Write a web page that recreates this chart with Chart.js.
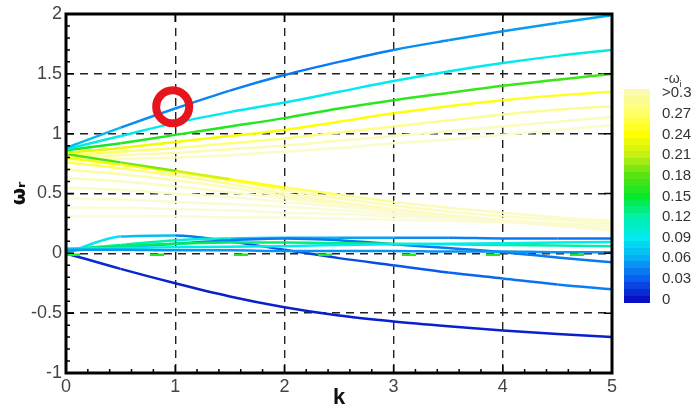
<!DOCTYPE html>
<html>
<head>
<meta charset="utf-8">
<script src="https://cdn.jsdelivr.net/npm/chart.js@4"></script>
<style>
body{margin:0;background:#fff;}
#wrap{position:relative;width:698px;height:407px;}
#cb{position:absolute;left:624px;top:89px;width:26px;height:213px;}
#cb div{position:absolute;left:0;width:26px;}
.cbl{position:absolute;left:662px;font:15px "Liberation Sans",Arial,sans-serif;color:#333;line-height:16px;}
#cbt{position:absolute;left:664px;top:70px;font:14px "Liberation Sans",Arial,sans-serif;color:#333;}
#cbt sub{font-size:9px;}
</style>
</head>
<body>
<div id="wrap">
<canvas id="c" width="698" height="407"></canvas>
<div id="cb"></div>
<div id="cbt">-ω<sub>i</sub></div>
</div>
<script>
// wavenumber samples
const k = [0,0.5,1,1.5,2,2.5,3,3.5,4,4.5,5]

// rising branch (omega_r) and growth (-omega_i)
const wrA = [0.88,1.05,1.21,1.36,1.49,1.60,1.70,1.78,1.855,1.925,1.99]
const wiA = [0.08,0.05,0.045,0.045,0.04,0.04,0.045,0.05,0.05,0.055,0.06]
const wrB = [0.87,0.98,1.09,1.18,1.26,1.35,1.44,1.52,1.59,1.65,1.70]
const wiB = [0.10,0.09,0.09,0.09,0.09,0.09,0.09,0.09,0.09,0.095,0.10]
const wrC = [0.86,0.92,0.99,1.06,1.13,1.21,1.28,1.34,1.40,1.45,1.50]
const wiC = [0.15,0.16,0.16,0.16,0.16,0.16,0.165,0.165,0.17,0.17,0.17]
const wrD = [0.84,0.88,0.93,0.98,1.03,1.10,1.17,1.23,1.28,1.32,1.35]
const wiD = [0.22,0.23,0.235,0.235,0.24,0.24,0.24,0.245,0.245,0.25,0.25]
const wrE = [0.82,0.85,0.88,0.92,0.96,1.01,1.06,1.11,1.16,1.20,1.23]
const wiE = [0.26,0.27,0.28,0.28,0.28,0.285,0.285,0.29,0.29,0.29,0.29]
const wrF = [0.80,0.82,0.84,0.87,0.90,0.94,0.98,1.02,1.06,1.10,1.14]
const wiF = [0.29,0.30,0.31,0.31,0.31,0.32,0.32,0.32,0.32,0.32,0.32]
const wrG = [0.78,0.79,0.80,0.82,0.85,0.88,0.92,0.95,0.99,1.03,1.07]
const wiG = [0.31,0.32,0.33,0.33,0.34,0.34,0.34,0.34,0.34,0.34,0.34]

// falling branch
const wrH = [0.83,0.76,0.69,0.62,0.55,0.49,0.43,0.38,0.34,0.30,0.27]
const wiH = [0.17,0.18,0.20,0.23,0.26,0.28,0.30,0.32,0.33,0.34,0.34]
const wrP = [0.80,0.74,0.68,0.61,0.53,0.46,0.40,0.35,0.31,0.28,0.25]
const wiP = [0.23,0.24,0.25,0.27,0.29,0.31,0.32,0.33,0.34,0.34,0.34]
const wrQ = [0.76,0.71,0.65,0.58,0.50,0.43,0.37,0.32,0.28,0.25,0.22]
const wiQ = [0.26,0.27,0.28,0.30,0.31,0.32,0.33,0.34,0.34,0.35,0.35]
const wrR = [0.70,0.66,0.61,0.55,0.48,0.42,0.36,0.31,0.27,0.23,0.20]
const wiR = [0.29,0.30,0.31,0.32,0.33,0.34,0.34,0.35,0.35,0.35,0.35]
const wrS = [0.63,0.60,0.56,0.51,0.46,0.41,0.36,0.31,0.27,0.23,0.19]
const wiS = [0.31,0.32,0.33,0.34,0.34,0.35,0.35,0.35,0.36,0.36,0.36]
const wrT = [0.55,0.53,0.50,0.47,0.43,0.39,0.35,0.31,0.27,0.24,0.21]
const wiT = [0.33,0.34,0.34,0.35,0.35,0.35,0.36,0.36,0.36,0.36,0.36]
const wrU = [0.46,0.45,0.43,0.41,0.39,0.36,0.33,0.30,0.27,0.24,0.22]
const wiU = [0.34,0.35,0.35,0.35,0.36,0.36,0.36,0.36,0.36,0.36,0.36]
const wrV = [0.38,0.38,0.37,0.36,0.34,0.33,0.31,0.29,0.27,0.25,0.23]
const wiV = [0.35,0.36,0.36,0.36,0.36,0.36,0.36,0.36,0.36,0.36,0.36]
const wrW = [0.31,0.31,0.31,0.30,0.30,0.29,0.28,0.27,0.26,0.25,0.24]
const wiW = [0.36,0.36,0.36,0.36,0.36,0.36,0.36,0.36,0.36,0.36,0.36]

// branches near zero
const wrDk = [0,-0.13,-0.25,-0.36,-0.45,-0.52,-0.57,-0.61,-0.645,-0.675,-0.70]
const wiDk = [0.01,0.008,0.006,0.006,0.006,0.006,0.006,0.006,0.006,0.006,0.006]
const wrI = [0,0.14,0.15,0.10,0.03,-0.04,-0.10,-0.16,-0.21,-0.26,-0.30]
const wiI = [0.09,0.085,0.05,0.03,0.02,0.02,0.025,0.03,0.035,0.04,0.045]
const wrJ = [0.03,0.07,0.11,0.125,0.13,0.13,0.13,0.13,0.125,0.125,0.125]
const wiJ = [0.13,0.12,0.11,0.09,0.07,0.06,0.05,0.045,0.04,0.04,0.035]
const wrK = [0.02,0.05,0.08,0.11,0.125,0.11,0.075,0.045,0.01,-0.035,-0.075]
const wiK = [0.06,0.05,0.045,0.04,0.04,0.04,0.04,0.04,0.04,0.04,0.04]
const wrL = [0.04,0.045,0.05,0.055,0.06,0.07,0.075,0.08,0.085,0.09,0.095]
const wiL = [0.09,0.09,0.09,0.09,0.09,0.09,0.09,0.09,0.09,0.09,0.09]
const wrN = [0.03,0.06,0.08,0.09,0.09,0.085,0.08,0.075,0.07,0.065,0.06]
const wiN = [0.14,0.14,0.14,0.135,0.13,0.13,0.13,0.12,0.12,0.12,0.12]
const wrM = [0.03,0.03,0.025,0.025,0.02,0.02,0.02,0.015,0.015,0.01,0.01]
const wiM = [0.05,0.05,0.05,0.05,0.05,0.05,0.05,0.05,0.05,0.05,0.05]
const wrZ = [-0.012,-0.012,-0.012,-0.012,-0.012,-0.012,-0.012,-0.012,-0.012,-0.012,-0.012]
const wiZ = [0.16,0.16,0.16,0.16,0.16,0.16,0.16,0.16,0.16,0.16,0.16]

// highlighted mode (red ring)
const markK = [0.977]
const markW = [1.224]

// colour scale
const cbTicks = ['>0.3','0.27','0.24','0.21','0.18','0.15','0.12','0.09','0.06','0.03','0']
const cmapVals = [0,0.03,0.06,0.09,0.12,0.15,0.18,0.21,0.24,0.27,0.30,0.36]
const cmapCols = ['#0812c4','#0a5ef0','#08aef4','#00eaf0','#00f0a6','#08e82a','#58e410','#c8f014','#ffff00','#ffff66','#fbfbb0','#fbfbd8']

function hex(c){return [1,3,5].map(i=>parseInt(c.substr(i,2),16))}

function cmap(v){
if(v<=cmapVals[0]) return cmapCols[0]
if(v>=cmapVals[cmapVals.length-1]) return cmapCols[cmapCols.length-1]
let i=0
while(v>cmapVals[i+1]) i++
const t=(v-cmapVals[i])/(cmapVals[i+1]-cmapVals[i])
const a=hex(cmapCols[i]),b=hex(cmapCols[i+1])
return 'rgb('+a.map((x,j)=>Math.round(x+(b[j]-x)*t)).join(',')+')'
}

// colourbar bands (one per 0.01)
const cb=document.getElementById('cb')
const nb=31, bh=213/nb
for(let j=0;j<nb;j++){
const d=document.createElement('div')
d.style.top=(213-(j+1)*bh)+'px'
d.style.height=(bh+0.6)+'px'
d.style.background=cmap(j*0.01)
cb.appendChild(d)
}
cbTicks.forEach((t,i)=>{
const s=document.createElement('div')
s.className='cbl'
s.textContent=t
s.style.top=(89+(i*3+0.5)*bh-8)+'px'
document.getElementById('wrap').appendChild(s)
})

const curves = [
[wrM,wiM],[wrZ,wiZ],[wrL,wiL],[wrN,wiN],[wrK,wiK],[wrJ,wiJ],[wrI,wiI],[wrDk,wiDk],
[wrA,wiA],[wrB,wiB],[wrC,wiC],[wrD,wiD],[wrH,wiH],[wrP,wiP],[wrE,wiE],[wrQ,wiQ],
[wrF,wiF],[wrR,wiR],[wrG,wiG],[wrS,wiS],[wrT,wiT],[wrU,wiU],[wrV,wiV],[wrW,wiW]
]

const datasets = curves.map(([wr,wi])=>({
data:k.map((x,i)=>({x:x,y:wr[i]})),
borderWidth:2.5,
pointRadius:0,
fill:false,
cubicInterpolationMode:'monotone',
borderDash: wr===wrZ ? [14,70] : [],
segment:{borderColor:c=>cmap((wi[c.p0DataIndex]+wi[c.p1DataIndex])/2)}
}))

datasets.unshift({
type:'scatter',
data:markK.map((x,i)=>({x:x,y:markW[i]})),
pointRadius:16.5,
pointHoverRadius:16.5,
pointBorderWidth:8,
pointBorderColor:'#e8141c',
pointBackgroundColor:'rgba(0,0,0,0)'
})

const frame = {
id:'frame',
afterDatasetsDraw(chart){
const {ctx,chartArea:a,scales:{x,y}}=chart
ctx.save()
ctx.strokeStyle='#000'
ctx.lineWidth=1.5
ctx.beginPath()
for(let v=-1;v<=2.001;v+=0.1){
const p=y.getPixelForValue(v)
const major=Math.abs(v*2-Math.round(v*2))<0.01
ctx.moveTo(a.left,p);ctx.lineTo(a.left+(major?8:4),p)
if(major){ctx.moveTo(a.right,p);ctx.lineTo(a.right-8,p)}
}
for(let v=0;v<=5.001;v+=0.2){
const p=x.getPixelForValue(v)
const major=Math.abs(v-Math.round(v))<0.01
ctx.moveTo(p,a.bottom);ctx.lineTo(p,a.bottom-(major?8:4))
if(major){ctx.moveTo(p,a.top);ctx.lineTo(p,a.top+8)}
}
ctx.stroke()
ctx.lineWidth=3
ctx.strokeRect(a.left,a.top,a.right-a.left,a.bottom-a.top)
ctx.restore()
}
}

const tickFont={size:18,family:'Liberation Sans'}

new Chart(document.getElementById('c'),{
type:'line',
data:{datasets:datasets},
options:{
responsive:false,
animation:false,
events:[],
layout:{autoPadding:false,padding:{left:0,right:86,top:14,bottom:0}},
plugins:{legend:{display:false},tooltip:{enabled:false}},
scales:{
x:{
type:'linear',min:0,max:5,
ticks:{stepSize:1,padding:3,color:'#444',font:tickFont,maxRotation:0,callback:v=>String(v)},
grid:{color:'#222',lineWidth:1.4,drawTicks:false},
border:{display:false,dash:[8,6]},
title:{display:true,text:'k',color:'#111',font:{size:22,weight:'bold',family:'Liberation Sans'},padding:{top:0,bottom:-4}},
afterFit:s=>{s.height=34;s.paddingLeft=0;s.paddingRight=0}
},
y:{
type:'linear',min:-1,max:2,
ticks:{stepSize:0.5,padding:4,color:'#444',font:tickFont,callback:v=>String(v)},
grid:{color:'#222',lineWidth:1.4,drawTicks:false},
border:{display:false,dash:[8,6]},
title:{display:true,text:'ωᵣ',color:'#111',font:{size:20,weight:'bold',family:'DejaVu Sans'},padding:{top:8,bottom:0}},
afterFit:s=>{s.width=66;s.paddingTop=0;s.paddingBottom=0}
}
}
},
plugins:[frame]
})
</script>
</body>
</html>
